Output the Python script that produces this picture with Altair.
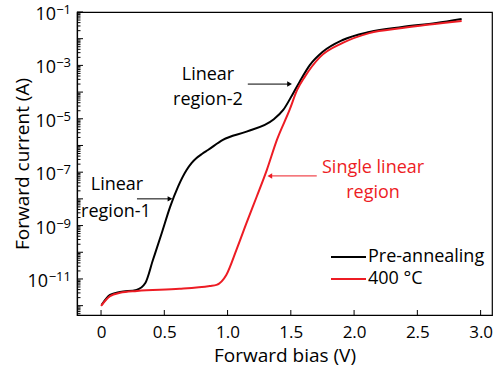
import altair as alt
import pandas as pd

FONT = "Open Sans"
RED = "#ed1c24"

# Curves: bias in V, log10 of current in A
pre_v = [0.005, 0.071, 0.15, 0.28, 0.35, 0.41, 0.48, 0.546, 0.608, 0.676, 0.715, 0.755, 0.80, 0.845,
         0.963, 1.15, 1.36, 1.44, 1.52, 1.57, 1.65, 1.75, 1.91, 2.12, 2.38, 2.65, 2.85]
pre_log = [-11.97, -11.60, -11.49, -11.41, -11.15, -10.29, -9.28, -8.30, -7.55, -6.92, -6.66, -6.47, -6.31, -6.17,
           -5.79, -5.48, -5.04, -4.67, -4.03, -3.61, -2.99, -2.50, -2.05, -1.75, -1.56, -1.41, -1.26]
ann_v = [0.0, 0.071, 0.15, 0.284, 0.62, 0.86, 0.913, 0.99, 1.07, 1.15, 1.23, 1.31, 1.39,
         1.49, 1.55, 1.61, 1.73, 1.91, 2.12, 2.38, 2.85]
ann_log = [-12.01, -11.64, -11.52, -11.45, -11.37, -11.26, -11.22, -10.85, -9.91, -8.90, -7.92,
           -6.92, -5.79, -4.67, -3.92, -3.43, -2.69, -2.16, -1.79, -1.60, -1.34]

series_names = ["Pre-annealing", "400 °C"]
series_colors = ["black", RED]

x_ticks = [0, 0.5, 1.0, 1.5, 2.0, 2.5, 3.0]
y_label_exps = [-1, -3, -5, -7, -9, -11]
y_label_sup = ["−1", "−3", "−5", "−7", "−9", "−11"]

# annotations
txt_x = [0.845, 0.845, 0.126, 0.118, 2.15, 2.15]
txt_log = [-3.36, -4.30, -7.48, -8.49, -6.84, -7.78]
txt_s = ["Linear", "region-2", "Linear", "region-1", "Single linear", "region"]
txt_c = ["black", "black", "black", "black", RED, RED]
arr_x1 = [1.16, 0.284, 1.705]
arr_x2 = [1.49, 0.545, 1.334]
arr_log = [-3.70, -8.0, -7.14]
arr_c = ["black", "black", RED]
arr_shape = ["triangle-right", "triangle-right", "triangle-left"]

XDOM = [-0.19, 3.09]
YDOM = [10 ** -12.35, 10 ** -1]

rows = []
for v, l in zip(pre_v, pre_log):
    rows.append({"bias": v, "current": 10 ** l, "series": series_names[0], "o": 0})
for v, l in zip(ann_v, ann_log):
    rows.append({"bias": v, "current": 10 ** l, "series": series_names[1], "o": 1})
df = pd.DataFrame(rows)

xs = alt.Scale(domain=XDOM, nice=False, zero=False)
ys = alt.Scale(type="log", domain=YDOM, nice=False)

X_AXIS = alt.Axis(values=x_ticks, ticks=False, title="Forward bias (V)",
                  labelExpr="datum.value == 0 ? '0' : format(datum.value, '.1f')",
                  labelFontSize=17, labelFont=FONT, labelColor="black", labelPadding=9,
                  titleFont=FONT, titleFontSize=19, titleFontWeight="normal", titleColor="black",
                  titlePadding=6, domainColor="black", domainWidth=1.2, grid=False)
Y_AXIS = alt.Axis(values=[10.0 ** e for e in y_label_exps], ticks=False, labels=False,
                  title="Forward current (A)",
                  titleFont=FONT, titleFontSize=19, titleFontWeight="normal", titleColor="black",
                  titlePadding=45, domainColor="black", domainWidth=1.2, grid=False)

lines = alt.Chart(df).mark_line(strokeWidth=2, interpolate="monotone", clip=True).encode(
    x=alt.X("bias:Q", scale=xs, axis=X_AXIS),
    y=alt.Y("current:Q", scale=ys, axis=Y_AXIS),
    color=alt.Color("series:N", scale=alt.Scale(domain=series_names, range=series_colors),
                    legend=alt.Legend(title=None, orient="none", legendX=253, legendY=235,
                                      symbolType="stroke", symbolSize=1225, symbolStrokeWidth=2,
                                      labelFont=FONT, labelFontSize=18, labelColor="black",
                                      labelOffset=1, clipHeight=20, rowPadding=2, padding=0)),
    order="o:Q",
    detail="series:N",
)

# tick marks (inward)
ymaj = [10.0 ** e for e in range(-12, 0)]
ymin = [m * 10.0 ** e for e in range(-13, -1) for m in range(2, 10)]
ymin = [v for v in ymin if YDOM[0] <= v <= YDOM[1]]
ytick_major = alt.Chart(pd.DataFrame({"v": ymaj})).mark_rule(color="black", strokeWidth=1).encode(
    y=alt.Y("v:Q", scale=ys, axis=Y_AXIS),
    x=alt.value(0),
    x2=alt.value(6),
)
ytick_minor = alt.Chart(pd.DataFrame({"v": ymin})).mark_rule(color="black", strokeWidth=1).encode(
    y=alt.Y("v:Q", scale=ys, axis=Y_AXIS),
    x=alt.value(0),
    x2=alt.value(3.5),
)

xtick = alt.Chart(pd.DataFrame({"v": x_ticks})).mark_rule(color="black", strokeWidth=1).encode(
    x=alt.X("v:Q", scale=xs, axis=X_AXIS),
    y=alt.value(303),
    y2=alt.value(298),
)

# y tick labels: "10" with a superscript exponent
yl = pd.DataFrame({"v": [10.0 ** e for e in y_label_exps], "sup": y_label_sup,
                   "two": [len(s) > 2 for s in y_label_sup]})
ylab_sup = alt.Chart(yl).mark_text(font=FONT, fontSize=13, align="right", baseline="middle", dy=-2,
                                   color="black").encode(
    y=alt.Y("v:Q", scale=ys, axis=Y_AXIS),
    x=alt.value(-6),
    text="sup:N",
)
ylab_base1 = alt.Chart(yl).transform_filter("!datum.two").mark_text(
    font=FONT, fontSize=18, align="right", baseline="middle", dy=3, color="black").encode(
    y=alt.Y("v:Q", scale=ys, axis=Y_AXIS),
    x=alt.value(-21),
    text=alt.value("10"),
)
ylab_base2 = alt.Chart(yl).transform_filter("datum.two").mark_text(
    font=FONT, fontSize=18, align="right", baseline="middle", dy=3, color="black").encode(
    y=alt.Y("v:Q", scale=ys, axis=Y_AXIS),
    x=alt.value(-29),
    text=alt.value("10"),
)

tdf = pd.DataFrame({"x": txt_x, "y": [10 ** l for l in txt_log], "s": txt_s, "c": txt_c})
texts = alt.Chart(tdf).mark_text(font=FONT, fontSize=18, align="center", baseline="middle").encode(
    x=alt.X("x:Q", scale=xs, axis=X_AXIS),
    y=alt.Y("y:Q", scale=ys, axis=Y_AXIS),
    text="s:N",
    color=alt.Color("c:N", scale=None),
)

adf = pd.DataFrame({"x1": arr_x1, "x2": arr_x2, "y": [10 ** l for l in arr_log], "c": arr_c, "sh": arr_shape})
arrows = alt.Chart(adf).mark_rule(strokeWidth=1).encode(
    x=alt.X("x1:Q", scale=xs, axis=X_AXIS),
    x2="x2:Q",
    y=alt.Y("y:Q", scale=ys, axis=Y_AXIS),
    color=alt.Color("c:N", scale=None),
)
heads = alt.Chart(adf).mark_point(filled=True, size=30, opacity=1).encode(
    x=alt.X("x2:Q", scale=xs, axis=X_AXIS),
    y=alt.Y("y:Q", scale=ys, axis=Y_AXIS),
    color=alt.Color("c:N", scale=None),
    shape=alt.Shape("sh:N", scale=None),
)

chart = alt.layer(ytick_major, ytick_minor, xtick, ylab_sup, ylab_base1, ylab_base2,
                  arrows, heads, texts, lines).properties(
    width=415, height=303,
    autosize=alt.AutoSizeParams(type="none"),
    padding={"left": 77, "top": 12, "right": 2, "bottom": 57},
).configure(background="white").configure_view(stroke="black", strokeWidth=1.2)

chart.save("out.html", embed_options={"renderer": "svg", "actions": False})
